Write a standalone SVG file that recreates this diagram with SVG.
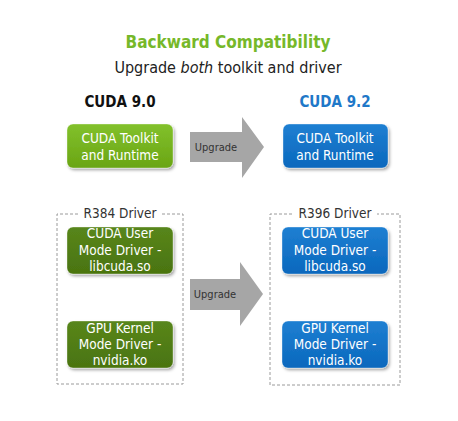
<svg xmlns="http://www.w3.org/2000/svg" width="458" height="421" viewBox="0 0 458 421">
<defs>
<linearGradient id="gLight" x1="0" y1="0" x2="0" y2="1"><stop offset="0" stop-color="#82c12c"/><stop offset="1" stop-color="#6aa514"/></linearGradient>
<linearGradient id="gDark" x1="0" y1="0" x2="0" y2="1"><stop offset="0" stop-color="#58861b"/><stop offset="1" stop-color="#4a7410"/></linearGradient>
<linearGradient id="gBlue" x1="0" y1="0" x2="0" y2="1"><stop offset="0" stop-color="#1f7fd2"/><stop offset="1" stop-color="#0a68bd"/></linearGradient>
<filter id="sh" x="-10%" y="-10%" width="125%" height="135%"><feDropShadow dx="1.5" dy="2" stdDeviation="1.5" flood-color="#000" flood-opacity="0.35"/></filter>
<style>
text{font-family:"DejaVu Sans Condensed","DejaVu Sans",sans-serif}
.box{stroke:#ffffff;stroke-opacity:0.35;stroke-width:1;filter:url(#sh)}
.bt{fill:#ffffff;font-size:13.5px;text-anchor:middle}
.dash{fill:none;stroke:#9a9a9a;stroke-width:1;stroke-dasharray:3,2}
.lbl{fill:#333;font-size:13.5px;text-anchor:middle}
.arrow{fill:#a6a6a6}
.at{fill:#333;font-size:11px;text-anchor:middle}
</style>
</defs>
<rect width="458" height="421" fill="#ffffff"/>
<g id="title">
<text x="228" y="48" text-anchor="middle" font-size="17" font-weight="bold" fill="#76b82a">Backward Compatibility</text>
<text x="228" y="73" text-anchor="middle" font-size="16" fill="#222">Upgrade <tspan font-style="italic">both</tspan> toolkit and driver</text>
<text x="120" y="107" text-anchor="middle" font-size="15" font-weight="bold" fill="#111">CUDA 9.0</text>
<text x="335" y="107" text-anchor="middle" font-size="15" font-weight="bold" fill="#1f78c8">CUDA 9.2</text>
</g>
<g id="connectors">
<g id="arrow-top">
<polygon class="arrow" points="190,132 242,132 242,117 264,147 242,178 242,162 190,162"/>
<text class="at" x="216" y="151">Upgrade</text>
</g>
<g id="arrow-bottom">
<polygon class="arrow" points="190,279 240,279 240,262 263,294 240,326 240,310 190,310"/>
<text class="at" x="215" y="298">Upgrade</text>
</g>
</g>
<g id="r384">
<path class="dash" d="M78,214 H57 V384 H183 V214 H162"/>
<text class="lbl" x="120" y="218">R384 Driver</text>
</g>
<g id="r396">
<path class="dash" d="M292,214 H270 V385 H400 V214 H377"/>
<text class="lbl" x="335" y="218">R396 Driver</text>
</g>
<g id="toolkit-90">
<rect class="box" x="67" y="124" width="106" height="44" rx="6" fill="url(#gLight)"/>
<text class="bt" x="120" y="143">CUDA Toolkit</text>
<text class="bt" x="120" y="160">and Runtime</text>
</g>
<g id="toolkit-92">
<rect class="box" x="283" y="124" width="105" height="44" rx="6" fill="url(#gBlue)"/>
<text class="bt" x="335" y="143">CUDA Toolkit</text>
<text class="bt" x="335" y="160">and Runtime</text>
</g>
<g id="umd-384">
<rect class="box" x="67" y="227" width="106" height="47" rx="6" fill="url(#gDark)"/>
<text class="bt" x="120" y="238">CUDA User</text>
<text class="bt" x="120" y="255">Mode Driver -</text>
<text class="bt" x="120" y="271">libcuda.so</text>
</g>
<g id="kmd-384">
<rect class="box" x="67" y="321" width="106" height="47" rx="6" fill="url(#gDark)"/>
<text class="bt" x="120" y="333">GPU Kernel</text>
<text class="bt" x="120" y="349">Mode Driver -</text>
<text class="bt" x="120" y="365">nvidia.ko</text>
</g>
<g id="umd-396">
<rect class="box" x="282" y="227" width="106" height="47" rx="6" fill="url(#gBlue)"/>
<text class="bt" x="335" y="238">CUDA User</text>
<text class="bt" x="335" y="255">Mode Driver -</text>
<text class="bt" x="335" y="271">libcuda.so</text>
</g>
<g id="kmd-396">
<rect class="box" x="282" y="321" width="106" height="47" rx="6" fill="url(#gBlue)"/>
<text class="bt" x="335" y="333">GPU Kernel</text>
<text class="bt" x="335" y="349">Mode Driver -</text>
<text class="bt" x="335" y="365">nvidia.ko</text>
</g>
</svg>
